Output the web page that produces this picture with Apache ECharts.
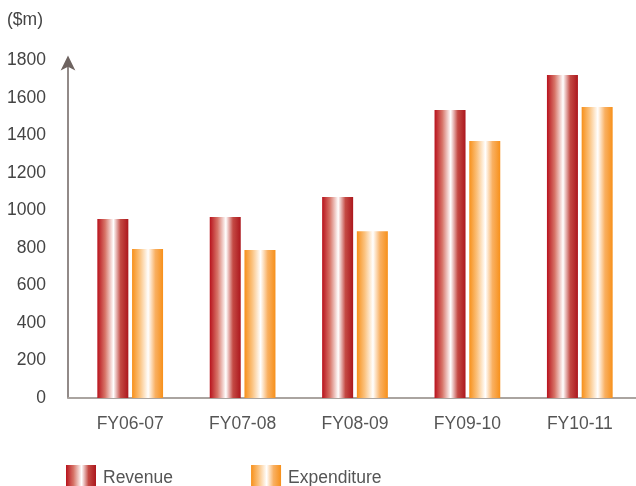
<!DOCTYPE html>
<html>
<head>
<meta charset="utf-8">
<script src="https://cdn.jsdelivr.net/npm/echarts@6/dist/echarts.min.js"></script>
<style>
html,body{margin:0;padding:0;background:#fff;}
#c{width:636px;height:486px;}
</style>
</head>
<body>
<div id="c"></div>
<script>
var categories = ['FY06-07', 'FY07-08', 'FY08-09', 'FY09-10', 'FY10-11'];
var revenue = [955, 965, 1072, 1536, 1723];
var expenditure = [795, 790, 890, 1371, 1552];
var yTicks = [0, 200, 400, 600, 800, 1000, 1200, 1400, 1600, 1800];

function grad(edgeL, mid, edgeR) {
  return new echarts.graphic.LinearGradient(0, 0, 1, 0, [
    {offset: 0, color: edgeL},
    {offset: 0.25, color: mid[0]},
    {offset: 0.52, color: '#ffffff'},
    {offset: 0.75, color: mid[1]},
    {offset: 1, color: edgeR}
  ]);
}
var redGrad = grad('#b8121c', ['#d77468', '#c44a44'], '#ac171d');
var orangeGrad = grad('#f7901a', ['#fbc27e', '#f9b062'], '#f7901a');
var FONT = 'Liberation Sans, Arial, sans-serif';

var chart = echarts.init(document.getElementById('c'));
chart.setOption({
  animation: false,
  textStyle: {fontFamily: FONT},
  title: {
    text: '($m)', left: 7, top: 11, padding: 0,
    textStyle: {fontSize: 17.5, fontWeight: 'normal', color: '#444444', fontFamily: FONT}
  },
  legend: {
    left: 66, top: 465, padding: 0,
    itemWidth: 30, itemHeight: 21, itemGap: 78, itemTextGap: 9,
    icon: 'rect',
    formatter: '{t|{name}}',
    textStyle: {
      fontSize: 17.5, color: '#555555',
      rich: {t: {fontSize: 17.5, color: '#555555', fontFamily: FONT, padding: [6, 0, 0, 2]}}
    },
    data: ['Revenue', 'Expenditure']
  },
  grid: {left: 74, right: 0, top: 60.5, bottom: 88},
  xAxis: {
    type: 'category',
    data: categories,
    axisLine: {lineStyle: {color: '#aaa4a0', width: 2}},
    axisTick: {show: false},
    axisLabel: {fontSize: 17.5, color: '#555555', margin: 17}
  },
  yAxis: {
    type: 'value',
    min: 0, max: yTicks[yTicks.length - 1], interval: yTicks[1] - yTicks[0],
    offset: 6,
    axisLine: {show: true, lineStyle: {color: '#6e6360', width: 1.5}, symbol: ['none', 'arrow'], symbolSize: [11, 15], symbolOffset: [0, 5]},
    axisTick: {show: false},
    splitLine: {show: false},
    axisLabel: {fontSize: 17.5, color: '#444444', margin: 22, formatter: function (v) { return String(v); }}
  },
  graphic: [{
    type: 'rect', shape: {x: 67.5, y: 397, width: 7, height: 2},
    style: {fill: '#aaa4a0'}, z: 5
  }],
  series: [{
    name: 'Revenue', type: 'bar', data: revenue,
    barWidth: 31, barGap: '12%',
    itemStyle: {color: redGrad}
  }, {
    name: 'Expenditure', type: 'bar', data: expenditure,
    barWidth: 31,
    itemStyle: {color: orangeGrad}
  }]
});
</script>
</body>
</html>
